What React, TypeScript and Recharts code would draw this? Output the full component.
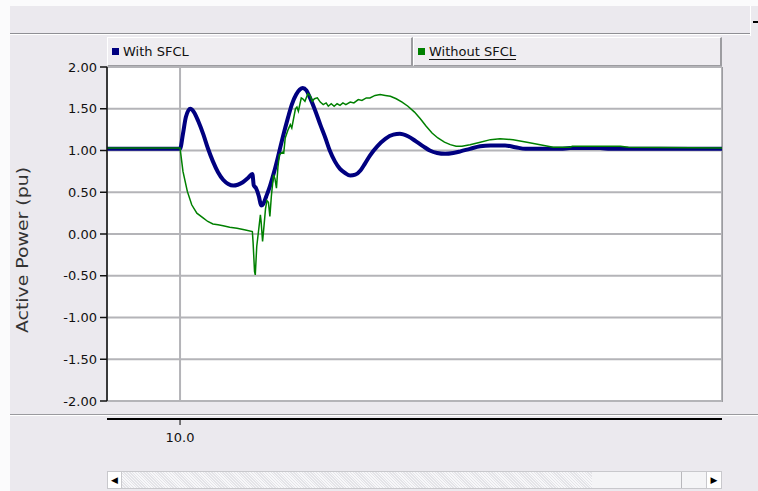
import React from 'react';
import { LineChart, Line, XAxis, YAxis, CartesianGrid } from 'recharts';

// time (s) and active power (pu)
const timeWith = [
  9.9, 10.0, 10.004, 10.008, 10.014, 10.019, 10.025, 10.032, 10.038, 10.045, 10.052, 10.059,
  10.066, 10.073, 10.079, 10.086, 10.093, 10.099, 10.101, 10.104, 10.108, 10.111, 10.114,
  10.118, 10.123, 10.129, 10.134, 10.141, 10.148, 10.153, 10.159, 10.164, 10.168, 10.173,
  10.178, 10.185, 10.192, 10.199, 10.205, 10.212, 10.219, 10.226, 10.233, 10.24, 10.247,
  10.253, 10.26, 10.27, 10.281, 10.292, 10.301, 10.312, 10.323, 10.333, 10.342, 10.352,
  10.363, 10.374, 10.384, 10.397, 10.411, 10.425, 10.445, 10.459, 10.473, 10.521, 10.534,
  10.575, 10.589, 10.742,
];
const powerWith = [
  1.02, 1.02, 1.2, 1.4, 1.5, 1.46, 1.35, 1.19, 1.03, 0.87, 0.74, 0.65,
  0.6, 0.58, 0.59, 0.62, 0.67, 0.72, 0.58, 0.55, 0.45, 0.34, 0.36,
  0.45, 0.57, 0.75, 0.92, 1.17, 1.4, 1.55, 1.67, 1.73, 1.75, 1.72,
  1.63, 1.48, 1.31, 1.15, 1.0, 0.87, 0.78, 0.73, 0.7, 0.71, 0.76,
  0.84, 0.94, 1.05, 1.14, 1.19, 1.2, 1.17, 1.11, 1.05, 1.0, 0.97,
  0.96, 0.97, 0.99, 1.02, 1.05, 1.06, 1.06, 1.04, 1.02, 1.02, 1.03,
  1.03, 1.02, 1.02,
];

const timeWithout = [
  9.9, 10.0, 10.004, 10.01, 10.016, 10.023, 10.032, 10.038, 10.045, 10.052, 10.059, 10.068,
  10.078, 10.088, 10.099, 10.1, 10.102, 10.103, 10.105, 10.107, 10.11, 10.111, 10.113,
  10.115, 10.117, 10.119, 10.121, 10.123, 10.125, 10.128, 10.13, 10.132, 10.134, 10.136,
  10.14, 10.142, 10.144, 10.148, 10.151, 10.153, 10.158, 10.16, 10.162, 10.166, 10.168,
  10.171, 10.175, 10.178, 10.181, 10.184, 10.188, 10.192, 10.196, 10.2, 10.203, 10.207,
  10.211, 10.215, 10.219, 10.223, 10.227, 10.233, 10.238, 10.244, 10.249, 10.255, 10.26,
  10.267, 10.274, 10.281, 10.288, 10.296, 10.304, 10.312, 10.321, 10.329, 10.337, 10.345,
  10.353, 10.362, 10.37, 10.378, 10.386, 10.397, 10.411, 10.425, 10.438, 10.456, 10.475,
  10.493, 10.511, 10.534, 10.537, 10.603, 10.614, 10.742,
];
const powerWithout = [
  1.03, 1.03, 0.75, 0.51, 0.35, 0.25, 0.19, 0.15, 0.12, 0.11, 0.1, 0.08,
  0.07, 0.05, 0.03, -0.1, -0.45, -0.49, -0.15, 0.0, 0.23, 0.15, -0.09,
  0.1, 0.3, 0.4, 0.38, 0.21, 0.45, 0.71, 0.66, 0.55, 0.8, 0.95,
  0.98, 0.97, 1.15, 1.25, 1.31, 1.27, 1.5, 1.52, 1.47, 1.63, 1.62,
  1.59, 1.68, 1.66, 1.59, 1.62, 1.63, 1.58, 1.55, 1.57, 1.53, 1.56,
  1.53, 1.56, 1.54, 1.57, 1.55, 1.58, 1.57, 1.61, 1.6, 1.63, 1.63,
  1.66, 1.67, 1.66, 1.65, 1.62, 1.58, 1.53, 1.46, 1.38, 1.29, 1.21,
  1.15, 1.1, 1.07, 1.05, 1.05, 1.07, 1.1, 1.13, 1.14, 1.13, 1.1,
  1.07, 1.04, 1.04, 1.05, 1.05, 1.04, 1.03,
];

const yTicks = [-2, -1.5, -1, -0.5, 0, 0.5, 1, 1.5, 2];
const xTicks = [10.0];

const withData = timeWith.map((t, i) => ({ t, p: powerWith[i] }));
const withoutData = timeWithout.map((t, i) => ({ t, p: powerWithout[i] }));

const FONT = '"DejaVu Sans", Arial, sans-serif';
const BG = '#ebe9ee';

const XTick = (props: any) => {
  const { x, payload } = props;
  return (
    <g>
      <line x1={x} x2={x} y1={420} y2={425} stroke="#000" />
      <text x={x} y={442} textAnchor="middle" fontSize={13} fontFamily={FONT} fill="#111">
        {payload.value.toFixed(1)}
      </text>
    </g>
  );
};

const YTitle = () => (
  <text
    x={22}
    y={250}
    transform="rotate(-90 22 250)"
    textAnchor="middle"
    dominantBaseline="central"
    fontSize={16}
    fontFamily={FONT}
    fill="#333"
    textLength={166}
    lengthAdjust="spacingAndGlyphs"
  >
    Active Power (pu)
  </text>
);

const legendItems = [
  { name: 'With SFCL', color: '#000080', left: 107, width: 306, underline: false },
  { name: 'Without SFCL', color: '#008000', left: 413, width: 309, underline: true },
];

export default function App() {
  return (
    <div style={{ position: 'absolute', left: 0, top: 0, width: 758, height: 491, background: BG, overflow: 'hidden', fontFamily: FONT }}>
      {/* window frame */}
      <div style={{ position: 'absolute', left: 0, top: 0, width: 758, height: 6, background: '#fbfbfc' }} />
      <div style={{ position: 'absolute', left: 0, top: 0, width: 10, height: 491, background: '#fbfbfc' }} />
      <div style={{ position: 'absolute', left: 10, top: 33, width: 740, height: 1, background: '#8f8f94' }} />
      <div style={{ position: 'absolute', left: 10, top: 34, width: 740, height: 1, background: '#ffffff' }} />
      <div style={{ position: 'absolute', left: 750, top: 6, width: 8, height: 30, borderLeft: '1px solid #fff', boxSizing: 'border-box' }} />
      <div style={{ position: 'absolute', left: 753, top: 21, width: 5, height: 2, background: '#000' }} />
      <div style={{ position: 'absolute', left: 10, top: 414, width: 748, height: 1, background: '#9a9a9e' }} />
      <div style={{ position: 'absolute', left: 10, top: 415, width: 748, height: 1, background: '#ffffff' }} />
      <div style={{ position: 'absolute', left: 107, top: 418, width: 615, height: 2, background: '#000' }} />

      {/* legend */}
      {legendItems.map((it) => (
        <div
          key={it.name}
          style={{
            position: 'absolute', left: it.left, top: 37, width: it.width, height: 30, boxSizing: 'border-box',
            borderTop: '1px solid #fff', borderLeft: '1px solid #fff',
            borderRight: '2px solid #9c9ca0', borderBottom: '2px solid #9c9ca0',
            background: '#efedf1', fontSize: 13, color: '#111',
          }}
        >
          <span style={{ position: 'absolute', left: 4, top: 10, width: 7, height: 7, background: it.color }} />
          <span style={{ position: 'absolute', left: 15, top: 6, textDecoration: it.underline ? 'underline' : 'none', textUnderlineOffset: 3 }}>
            {it.name}
          </span>
        </div>
      ))}

      {/* scrollbar */}
      <div style={{ position: 'absolute', left: 107, top: 471, width: 615, height: 18, background: '#f4f4f6', border: '1px solid #c8c8cc', boxSizing: 'border-box' }} />
      <div style={{ position: 'absolute', left: 122, top: 472, width: 470, height: 16, background: 'repeating-linear-gradient(45deg, #e4e4e8 0 1px, #f7f7f9 1px 2px)' }} />
      <div style={{ position: 'absolute', left: 681, top: 472, width: 1, height: 16, background: '#b8b8bc' }} />
      <div style={{ position: 'absolute', left: 108, top: 472, width: 14, height: 16, background: '#fff', borderRight: '1px solid #c8c8cc', boxSizing: 'border-box', fontSize: 9, lineHeight: '16px', textAlign: 'center' }}>◀</div>
      <div style={{ position: 'absolute', left: 706, top: 472, width: 15, height: 16, background: '#fff', borderLeft: '1px solid #c8c8cc', boxSizing: 'border-box', fontSize: 9, lineHeight: '16px', textAlign: 'center' }}>▶</div>

      <div style={{ position: 'absolute', left: 0, top: 0 }}>
        <LineChart width={758} height={491} margin={{ top: 67, right: 36, bottom: 50, left: 0 }}>
          <CartesianGrid fill="#ffffff" stroke="#b4b4b8" strokeWidth={2} />
          <XAxis
            dataKey="t"
            type="number"
            domain={[9.9, 10.742]}
            ticks={xTicks}
            allowDataOverflow
            axisLine={false}
            tickLine={false}
            tick={<XTick />}
            height={40}
          />
          <YAxis
            type="number"
            domain={[-2, 2]}
            ticks={yTicks}
            width={107}
            tickFormatter={(v: number) => v.toFixed(2)}
            tick={{ fontSize: 13, fontFamily: FONT, fill: '#111' }}
            tickSize={7}
            tickMargin={3}
            stroke="#111"
            strokeWidth={1.5}
            label={{ content: <YTitle /> }}
          />
          <Line
            data={withData}
            dataKey="p"
            name="With SFCL"
            type="monotone"
            stroke="#000080"
            strokeWidth={4}
            dot={false}
            isAnimationActive={false}
          />
          <Line
            data={withoutData}
            dataKey="p"
            name="Without SFCL"
            type="linear"
            stroke="#008000"
            strokeWidth={1.5}
            dot={false}
            isAnimationActive={false}
          />
        </LineChart>
      </div>
      <div style={{ position: 'absolute', left: 722, top: 67, width: 1, height: 335, background: '#9c9ca0' }} />
    </div>
  );
}
